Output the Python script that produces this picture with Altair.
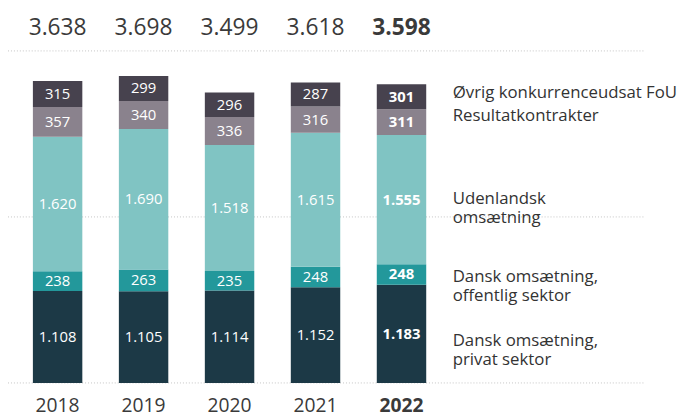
import altair as alt
import pandas as pd

years = ["2018", "2019", "2020", "2021", "2022"]
categories = [
    "Dansk omsætning, privat sektor",
    "Dansk omsætning, offentlig sektor",
    "Udenlandsk omsætning",
    "Resultatkontrakter",
    "Øvrig konkurrenceudsat FoU",
]
privat = [1108, 1105, 1114, 1152, 1183]
offentlig = [238, 263, 235, 248, 248]
udenlandsk = [1620, 1690, 1518, 1615, 1555]
resultat = [357, 340, 336, 316, 311]
oevrig = [315, 299, 296, 287, 301]
totals = [3638, 3698, 3499, 3618, 3598]
legend_line1 = ["Dansk omsætning,", "Dansk omsætning,", "Udenlandsk", "Resultatkontrakter",
                "Øvrig konkurrenceudsat FoU"]
legend_line2 = ["privat sektor", "offentlig sektor", "omsætning", "", ""]
legend_pos = [444, 1211, 2151, 3155, 3432]
grid_values = [0, 2000, 4000]
colors = ["#1c3946", "#23989b", "#80c4c3", "#8a828d", "#47424e"]


def dk(v):
    return f"{v:,}".replace(",", ".")


series = [privat, offentlig, udenlandsk, resultat, oevrig]
rows = []
for ci, (cat, vals) in enumerate(zip(categories, series)):
    for y, v in zip(years, vals):
        rows.append({"year": y, "cat": cat, "order": ci, "value": v, "label": dk(v),
                     "bold": y == "2022"})
df = pd.DataFrame(rows)
tot_df = pd.DataFrame({"year": years, "total": totals, "label": [dk(t) for t in totals],
                       "bold": [y == "2022" for y in years]})
leg_df = pd.DataFrame({"l1": legend_line1, "l2": legend_line2, "pos": legend_pos})
grid_df = pd.DataFrame({"g": grid_values})

FONT = "Open Sans"
xscale = alt.Scale(domain=years, range=[6.7, 441.7], paddingInner=0.425, paddingOuter=0.2125)
yscale = alt.Scale(domain=[0, 4000], range=[377, 41])
X = alt.X("year:N", scale=xscale, axis=None)

grid = alt.Chart(grid_df).mark_rule(color="#c4c4c4", strokeDash=[1, 2], strokeWidth=1).encode(
    y=alt.Y("g:Q", scale=yscale, axis=None), x=alt.value(0), x2=alt.value(644)
)

bars = alt.Chart(df).mark_bar().encode(
    x=X,
    y=alt.Y("value:Q", stack="zero", scale=yscale, axis=None),
    color=alt.Color("cat:N", scale=alt.Scale(domain=categories, range=colors), legend=None),
    order=alt.Order("order:Q"),
)

seg_base = alt.Chart(df).transform_stack(
    stack="value", groupby=["year"], sort=[alt.SortField("order")], as_=["v0", "v1"]
).transform_calculate(mid="(datum.v0 + datum.v1) / 2")

seg_norm = seg_base.transform_filter("!datum.bold").mark_text(
    font=FONT, fontSize=15, color="white", baseline="middle"
).encode(x=X, y=alt.Y("mid:Q", scale=yscale, axis=None), text="label:N")
seg_bold = seg_base.transform_filter("datum.bold").mark_text(
    font=FONT, fontSize=15, color="white", baseline="middle", fontWeight="bold"
).encode(x=X, y=alt.Y("mid:Q", scale=yscale, axis=None), text="label:N")

tot_norm = alt.Chart(tot_df).transform_filter("!datum.bold").mark_text(
    font=FONT, fontSize=23, color="#3a3a3a", baseline="alphabetic"
).encode(x=X, y=alt.value(25), text="label:N")
tot_bold = alt.Chart(tot_df).transform_filter("datum.bold").mark_text(
    font=FONT, fontSize=23, color="#3a3a3a", baseline="alphabetic", fontWeight="bold"
).encode(x=X, y=alt.value(25), text="label:N")

yr_norm = alt.Chart(tot_df).transform_filter("!datum.bold").mark_text(
    font=FONT, fontSize=19.5, color="#3a3a3a", baseline="alphabetic"
).encode(x=X, y=alt.value(406), text="year:N")
yr_bold = alt.Chart(tot_df).transform_filter("datum.bold").mark_text(
    font=FONT, fontSize=19.5, color="#3a3a3a", baseline="alphabetic", fontWeight="bold"
).encode(x=X, y=alt.value(406), text="year:N")

leg1 = alt.Chart(leg_df).mark_text(
    font=FONT, fontSize=17, color="#333333", align="left", baseline="alphabetic"
).encode(x=alt.value(450), y=alt.Y("pos:Q", scale=yscale, axis=None), text="l1:N")
leg2 = alt.Chart(leg_df).transform_filter("datum.l2 != ''").mark_text(
    font=FONT, fontSize=17, color="#333333", align="left", baseline="alphabetic", dy=19
).encode(x=alt.value(450), y=alt.Y("pos:Q", scale=yscale, axis=None), text="l2:N")

chart = alt.layer(
    grid, bars, seg_norm, seg_bold, tot_norm, tot_bold, yr_norm, yr_bold, leg1, leg2
).properties(
    width=678, height=406, autosize=alt.AutoSizeParams(type="none"), padding=0
).configure_view(stroke=None)

chart.save("out.html", embed_options={"renderer": "svg", "actions": False})
